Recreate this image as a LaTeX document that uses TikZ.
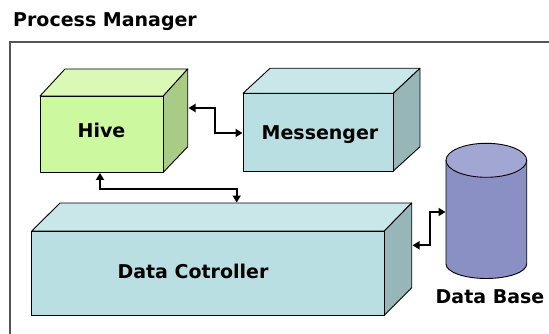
\documentclass[tikz,border=0pt]{standalone}
\usepackage{fontspec}
\setmainfont{DejaVu Sans}
\usetikzlibrary{arrows.meta}
\definecolor{hivefront}{HTML}{CCF9A0}
\definecolor{hivetop}{HTML}{DAF8B6}
\definecolor{hiveside}{HTML}{A8CB85}
\definecolor{cyanfront}{HTML}{B9DFE2}
\definecolor{cyantop}{HTML}{C9E7E9}
\definecolor{cyanside}{HTML}{97B6B7}
\definecolor{dbtop}{HTML}{A1A7D2}
\definecolor{dbbody}{HTML}{8A90C4}
\definecolor{framegray}{HTML}{555555}
\tikzset{
  face/.style={draw=black, line width=0.9pt, line join=round},
  lbl/.style={font=\bfseries\fontsize{19}{23}\selectfont, inner sep=0pt, anchor=base},
  conn/.style={draw=black, line width=2pt, {Triangle[length=7pt,width=8pt]}-{Triangle[length=7pt,width=8pt]}},
}
\begin{document}
\begin{tikzpicture}[x=1pt,y=-1pt]
\useasboundingbox (0,0) rectangle (549,334);
\fill[white] (0,0) rectangle (549,334);
% title and frame
\node[lbl, anchor=base west] (title) at (13,27) {Process Manager};
\draw[framegray, line width=1.2pt] (10,334) -- (10,42) -- (549,42);
% Hive box
\filldraw[face, fill=hivetop] (40,96) -- (65,69) -- (187.7,69) -- (163.3,96) -- cycle;
\filldraw[face, fill=hiveside] (163.3,96) -- (187.7,69) -- (187.7,146.7) -- (163.3,172.3) -- cycle;
\filldraw[face, fill=hivefront] (40,96) rectangle (163.3,172.3);
\node[lbl] (hive) at (101.5,138) {Hive};
% Messenger box
\filldraw[face, fill=cyantop] (243,93.3) -- (270,68.3) -- (420,68.3) -- (393.3,93.3) -- cycle;
\filldraw[face, fill=cyanside] (393.3,93.3) -- (420,68.3) -- (420,146.7) -- (393.3,171) -- cycle;
\filldraw[face, fill=cyanfront] (243,93.3) rectangle (393.3,171);
\node[lbl] (msg) at (320,140) {Messenger};
% Data Controller box
\filldraw[face, fill=cyantop] (31.7,231) -- (60,203) -- (411.7,203) -- (384.3,231) -- cycle;
\filldraw[face, fill=cyanside] (384.3,231) -- (411.7,203) -- (411.7,287.7) -- (384.3,315.3) -- cycle;
\filldraw[face, fill=cyanfront] (31.7,231) rectangle (384.3,315.3);
\node[lbl] (dc) at (193,278.5) {Data Cotroller};
% Data Base cylinder
\filldraw[face, fill=dbbody] (446,160.3) -- (446,264) arc[start angle=180, end angle=360, x radius=40.35, y radius=-14.5] -- (526.7,160.3) -- cycle;
\filldraw[face, fill=dbtop] (486.35,160.3) ellipse[x radius=40.35, y radius=17];
\node[lbl] (db) at (490,303.5) {Data Base};
% connector end points
\coordinate (hiveR) at (188.5,108);
\coordinate (msgL) at (242.5,133);
\coordinate (hiveB) at (100,173);
\coordinate (dcT) at (236.7,202.5);
\coordinate (dcR) at (412.5,245.3);
\coordinate (dbL) at (445.5,212);
% connectors
\draw[conn] (hiveR) -- ++(26.5,0) |- (msgL);
\draw[conn] (hiveB) -- ++(0,15.7) -| (dcT);
\draw[conn] (dcR) -- ++(17.5,0) |- (dbL);
\end{tikzpicture}
\end{document}
